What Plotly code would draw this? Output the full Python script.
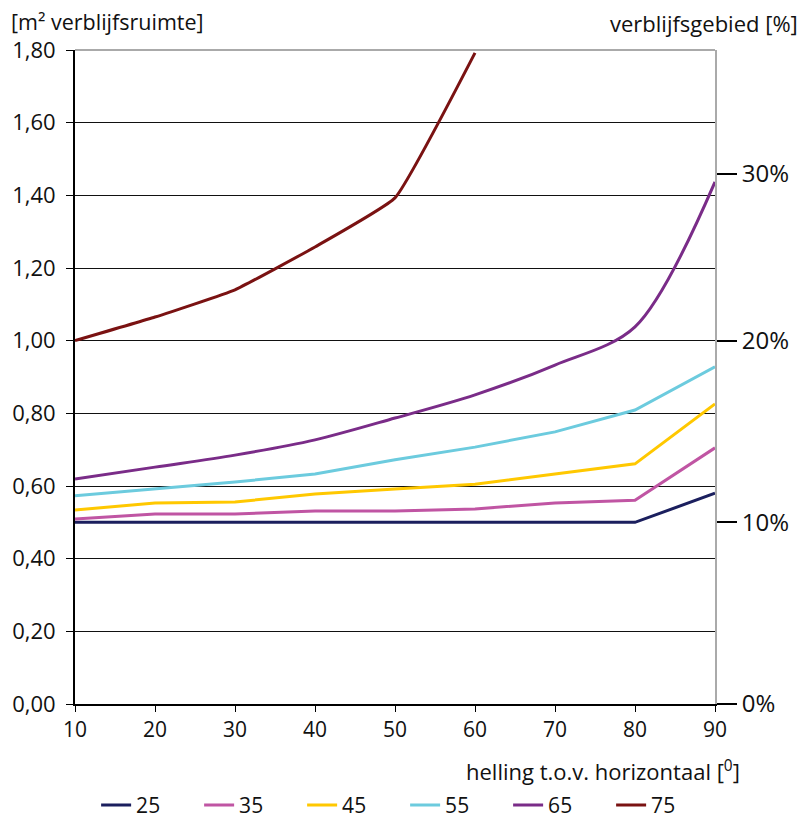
import plotly.graph_objects as go

helling = [10, 20, 30, 40, 50, 60, 70, 80, 90]
s25 = [0.50, 0.50, 0.50, 0.50, 0.50, 0.50, 0.50, 0.50, 0.58]
s35 = [0.509, 0.523, 0.523, 0.531, 0.531, 0.537, 0.553, 0.561, 0.705]
s45 = [0.534, 0.553, 0.556, 0.578, 0.592, 0.605, 0.633, 0.661, 0.826]
s55 = [0.573, 0.592, 0.611, 0.633, 0.672, 0.707, 0.749, 0.809, 0.928]
s65 = [0.619, 0.652, 0.685, 0.727, 0.787, 0.851, 0.933, 1.038, 1.437]
x75 = [10, 20, 30, 40, 50, 60]
s75 = [1.00, 1.065, 1.14, 1.258, 1.393, 1.792]

series = [
    ("25", helling, s25, "#1b1f5e", "linear", 0),
    ("35", helling, s35, "#c055a3", "linear", 0),
    ("45", helling, s45, "#ffc800", "linear", 0),
    ("55", helling, s55, "#6ccbde", "linear", 0),
    ("65", helling, s65, "#7a2c88", "spline", 0.9),
    ("75", x75, s75, "#7a1212", "spline", 0.35),
]

y_ticks = [0, 0.2, 0.4, 0.6, 0.8, 1.0, 1.2, 1.4, 1.6, 1.8]
pct_vals = [0, 0.5, 1.0, 1.46]
pct_text = ["0%", "10%", "20%", "30%"]

FONT = "Open Sans"

fig = go.Figure()
for name, xs, ys, col, shape, sm in series:
    line = dict(color=col, width=3, shape=shape)
    if shape == "spline":
        line["smoothing"] = sm
    fig.add_trace(go.Scatter(x=xs, y=ys, name=name, mode="lines", line=line))
# invisible trace to activate right axis
fig.add_trace(go.Scatter(x=[10], y=[0], yaxis="y2", showlegend=False,
                         mode="markers", marker=dict(opacity=0), hoverinfo="skip"))

# page body has an 8px margin, so the figure is drawn 8px right/down
fig.update_layout(
    width=798, height=814,
    margin=dict(l=67, r=91, t=42, b=118, autoexpand=False),
    paper_bgcolor="white", plot_bgcolor="white",
    separators=",.",
    font=dict(family=FONT, size=21, color="#111"),
    showlegend=True,
    legend=dict(orientation="h", x=0.033, xanchor="left", y=-0.155, yanchor="middle",
                font=dict(size=21), entrywidth=58, traceorder="normal"),
    xaxis=dict(range=[10, 90], tickvals=helling, ticks="outside", ticklen=6,
               tickcolor="black", showline=True, linecolor="black", linewidth=2,
               showgrid=False, zeroline=False, tickfont=dict(size=21), automargin=False),
    yaxis=dict(range=[0, 1.8], tickvals=y_ticks, tickformat=".2f", ticks="outside",
               ticklen=7, tickcolor="black", showline=True, linecolor="black",
               linewidth=2, showgrid=True, gridcolor="#111", gridwidth=1.3,
               zeroline=False, tickfont=dict(size=22), ticklabelstandoff=6,
               automargin=False),
    yaxis2=dict(range=[0, 1.8], overlaying="y", side="right", tickvals=pct_vals,
                ticktext=pct_text, ticks="outside", ticklen=20, tickcolor="black",
                tickwidth=2, showline=True, linecolor="#aaaaaa", linewidth=2,
                showgrid=False, zeroline=False, tickfont=dict(size=24),
                automargin=False),
    shapes=[dict(type="line", xref="paper", yref="paper", x0=0, x1=1, y0=1, y1=1,
                 line=dict(color="#aaaaaa", width=2), layer="between")],
    annotations=[
        dict(text="[m² verblijfsruimte]", xref="paper", yref="paper",
             x=-0.103, y=1.043, xanchor="left", yanchor="middle", showarrow=False,
             font=dict(size=21.5)),
        dict(text="verblijfsgebied [%]", xref="paper", yref="paper",
             x=1.1328, y=1.041, xanchor="right", yanchor="middle", showarrow=False,
             font=dict(size=22)),
        dict(text="helling t.o.v. horizontaal [<sup>0</sup>]", xref="paper", yref="paper",
             x=1.042, y=-0.101, xanchor="right", yanchor="middle", showarrow=False,
             font=dict(size=22)),
    ],
)

fig.write_html("out.html")
